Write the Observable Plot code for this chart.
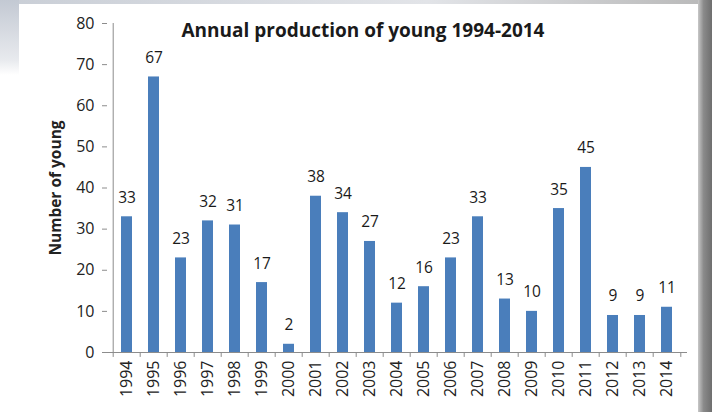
<!DOCTYPE html>
<html>
<head>
<meta charset="utf-8">
<script src="https://cdn.jsdelivr.net/npm/d3@7"></script>
<script src="https://cdn.jsdelivr.net/npm/@observablehq/plot@0.6"></script>
<style>
  html, body { margin: 0; padding: 0; }
  body { width: 712px; height: 412px; overflow: hidden; position: relative; background: #fff; font-family: "Open Sans", sans-serif; }
  #bgTop { position: absolute; left: 0; top: 0; width: 712px; height: 4px; background: linear-gradient(to right, #c9ced6, #e2e4e8 60%, #b8b8b8); }
  #bgLeft { position: absolute; left: 0; top: 0; width: 19px; height: 75px; background: linear-gradient(to bottom, #c3c9d3, #e8eaee 80%, #fff); }
  #bgRight { position: absolute; right: 0; top: 0; width: 14px; height: 412px; background: linear-gradient(to right, #c8c8c8, #8a8a8a 40%, #6e6e6e); }
  #chart { position: absolute; left: 0; top: 0; }
  #title { position: absolute; left: 0; width: 726px; top: 17px; text-align: center; font-weight: bold; font-size: 19px; line-height: 26px; color: #1a1a1a; font-family: "Open Sans", sans-serif; }
</style>
</head>
<body>
<div id="bgTop"></div>
<div id="bgLeft"></div>
<div id="bgRight"></div>
<div id="chart"></div>
<div id="title">Annual production of young 1994-2014</div>
<script>
const years = ["1994","1995","1996","1997","1998","1999","2000","2001","2002","2003","2004","2005","2006","2007","2008","2009","2010","2011","2012","2013","2014"];
const young = [33,67,23,32,31,17,2,38,34,27,12,16,23,33,13,10,35,45,9,9,11];
const yTicks = [0,10,20,30,40,50,60,70,80];

const data = years.map((year, i) => ({year, value: young[i]}));

const W = 712, H = 412;
const mL = 107, mR = 25;
const step = (W - mL - mR) / years.length;

const plot = Plot.plot({
  width: W,
  height: H,
  marginLeft: mL,
  marginRight: mR,
  marginTop: 23,
  marginBottom: 60,
  style: { fontFamily: "'Open Sans', sans-serif", background: "transparent", color: "#222" },
  x: { domain: years, paddingInner: 0.58, paddingOuter: 0.29 },
  y: { domain: [0, 80] },
  marks: [
    Plot.rectY(data, { x: "year", y: "value", fill: "#4a7ebb" }),
    Plot.text(data, { x: "year", y: "value", text: d => String(d.value), dy: -19, fontSize: 15.5, fill: "#1a1a1a" }),
    Plot.ruleY([0], { stroke: "#8c8c8c", strokeWidth: 1 }),
    Plot.ruleX([0], { x: () => years[0], dx: -step / 2, y1: 0, y2: 80, stroke: "#8c8c8c" }),
    Plot.ruleX(years, { x: d => d, dx: -step / 2, y1: 0, y2: -1.2, stroke: "#8c8c8c" }),
    Plot.ruleX([years[years.length - 1]], { x: d => d, dx: step / 2, y1: 0, y2: -1.2, stroke: "#8c8c8c" }),
    Plot.axisY({ ticks: yTicks, tickSize: 5, tickPadding: 8, stroke: "#8c8c8c", fontSize: 16, label: "Number of young", labelAnchor: "center", labelArrow: "none", labelOffset: 58 }),
    Plot.axisX({ tickSize: 0, tickPadding: 8, tickRotate: -90, fontSize: 16, label: null })
  ]
});

plot.querySelectorAll("g[aria-label='y-axis label'] text").forEach(t => {
  t.setAttribute("font-weight", "bold");
  t.setAttribute("font-size", "15.5");
});
plot.querySelectorAll("g[aria-label='y-axis tick label'] text, g[aria-label='x-axis tick label'] text").forEach(t => t.setAttribute("fill", "#222"));
document.getElementById("chart").appendChild(plot);
</script>
</body>
</html>
